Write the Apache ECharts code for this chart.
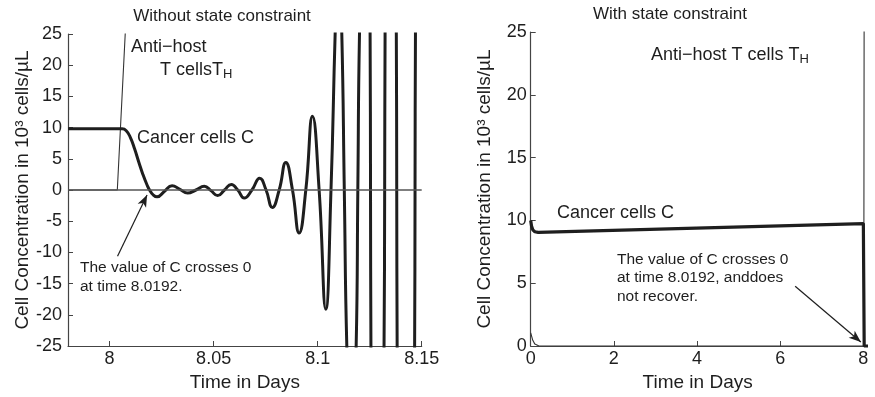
<!DOCTYPE html>
<html>
<head>
<meta charset="utf-8">
<script src="https://cdn.jsdelivr.net/npm/echarts@6/dist/echarts.min.js"></script>
<style>
  html, body { margin: 0; padding: 0; background: #fff; }
  #chart { width: 875px; height: 397px; }
</style>
</head>
<body>
<div id="chart"></div>
<script>
// left panel: without state constraint
var leftTimeC = [7.98, 8.006, 8.008, 8.010, 8.012, 8.014, 8.016, 8.018, 8.0192, 8.021,
  8.0228, 8.0264, 8.0300, 8.0338, 8.0375, 8.0415, 8.0455, 8.0487, 8.0519, 8.0552,
  8.0585, 8.0616, 8.0647, 8.0684, 8.0721, 8.0752, 8.0782, 8.0815, 8.0847, 8.0879,
  8.0911, 8.0943, 8.0975, 8.1007, 8.1039, 8.1064, 8.1084, 8.1100, 8.1116, 8.1128,
  8.1140, 8.1162, 8.1185, 8.1193, 8.1201, 8.1226, 8.1252, 8.1254, 8.1256, 8.1287,
  8.1319, 8.1322, 8.1324, 8.1352, 8.1378, 8.1380, 8.1382, 8.1424, 8.1466, 8.1468,
  8.1470, 8.1500];
var leftC = [9.8, 9.8, 9.5, 8.4, 6.6, 4.5, 2.5, 0.8, 0, -0.8,
  -1.1, -0.2, 0.7, 0.1, -0.5, 0, 0.6, -0.1, -0.9, 0,
  0.9, 0, -1.3, 0, 1.9, 0, -2.8, 0, 4.4, 0,
  -6.9, 0, 11.8, 0, -19.1, 0, 25, 40, 25, 0,
  -25, -45, -25, 0, 25, 60, 25, 0, -25, -80,
  -25, 0, 25, 100, 25, 0, -25, -130, -25, 0,
  25, 90];
var leftTimeTH = [7.98, 8.0037, 8.0075, 8.0080];
var leftTH = [0, 0, 25, 28];
var leftTicks = [8, 8.05, 8.1, 8.15];

// right panel: with state constraint
var rightTimeC = [0, 0.02, 0.05, 0.1, 0.18, 8.0, 8.015, 8.02, 8.28];
var rightC = [10.0, 9.55, 9.25, 9.1, 9.05, 9.75, 9.75, 0, 0];
var rightTimeTH = [0, 0.05, 0.1, 0.2, 8.01, 8.02];
var rightTH = [1.05, 0.45, 0.15, 0, 0, 30];
var rightTicks = [0, 2, 4, 6, 8];

var FONT = '"Liberation Sans", Arial, Helvetica, sans-serif';
var INK = '#1e1e1e';
var AXIS = '#444';

function pairs(xs, ys) {
  var out = [];
  for (var i = 0; i < xs.length; i++) {
    out.push([xs[i], ys[i]]);
  }
  return out;
}

function fmt(v) {
  return String(+(+v).toFixed(4));
}

function xAxisFor(idx, min, max, ticks) {
  return {
    type: 'value', gridIndex: idx, min: min, max: max,
    name: 'Time in Days', nameLocation: 'middle', nameGap: 27,
    nameTextStyle: { fontFamily: FONT, fontSize: 19, color: INK },
    axisLine: { onZero: false, lineStyle: { color: AXIS, width: 1.2 } },
    axisTick: { inside: true, length: 5, customValues: ticks, lineStyle: { color: AXIS } },
    axisLabel: { customValues: ticks, margin: 4, fontFamily: FONT, fontSize: 18, color: INK, formatter: fmt },
    splitLine: { show: false }
  };
}

function yAxisFor(idx, min, max, margin) {
  return {
    type: 'value', gridIndex: idx, min: min, max: max, interval: 5,
    name: 'Cell Concentration in 10³ cells/µL', nameLocation: 'middle', nameGap: 36,
    nameTextStyle: { fontFamily: FONT, fontSize: 19, color: INK },
    axisLine: { show: true, onZero: false, lineStyle: { color: AXIS, width: 1.2 } },
    axisTick: { show: true, inside: true, length: 5, lineStyle: { color: AXIS } },
    axisLabel: { margin: margin, fontFamily: FONT, fontSize: 18, color: INK },
    splitLine: { show: false }
  };
}

function arrow(from, to) {
  return {
    silent: true, animation: false,
    symbol: ['none', 'arrow'], symbolSize: [7, 12],
    label: { show: false },
    lineStyle: { color: INK, width: 1.2, type: 'solid' },
    data: [[{ coord: from }, { coord: to }]]
  };
}

function label(x, y, text, size, extra) {
  var style = { x: x, y: y, text: text, fill: INK, font: size + 'px ' + FONT, verticalAlign: 'middle' };
  for (var k in extra) { style[k] = extra[k]; }
  return { type: 'text', silent: true, style: style };
}

var subRich = { sub: { fontSize: 13, fontFamily: FONT, fill: INK, padding: [9, 0, 0, 0] } };

var chart = echarts.init(document.getElementById('chart'));

chart.setOption({
  animation: false,
  backgroundColor: '#fff',
  grid: [
    { left: 68, top: 34, width: 353.7, height: 315 },
    { left: 530.7, top: 32, width: 333.9, height: 315 }
  ],
  xAxis: [
    xAxisFor(0, 7.98, 8.15, leftTicks),
    xAxisFor(1, 0, 8.03, rightTicks)
  ],
  yAxis: [
    yAxisFor(0, -25, 25, 6),
    yAxisFor(1, 0, 25, 4)
  ],
  series: [
    {
      type: 'line', xAxisIndex: 0, yAxisIndex: 0, showSymbol: false, clip: true,
      data: pairs(leftTimeTH, leftTH),
      lineStyle: { color: '#333', width: 1.1 },
      markLine: {
        silent: true, animation: false, symbol: 'none', label: { show: false },
        lineStyle: { color: '#555', width: 1.6, type: 'solid' },
        data: [{ yAxis: 0 }]
      }
    },
    {
      type: 'line', xAxisIndex: 0, yAxisIndex: 0, showSymbol: false, clip: true,
      smooth: 0.5,
      data: pairs(leftTimeC, leftC),
      lineStyle: { color: INK, width: 3 },
      markLine: arrow([8.0038, -10.6], [8.018, -0.8])
    },
    {
      type: 'line', xAxisIndex: 1, yAxisIndex: 1, showSymbol: false, clip: true,
      data: pairs(rightTimeTH, rightTH),
      lineStyle: { color: '#333', width: 1.1 }
    },
    {
      type: 'line', xAxisIndex: 1, yAxisIndex: 1, showSymbol: false, clip: false,
      data: pairs(rightTimeC, rightC),
      lineStyle: { color: INK, width: 3.2 },
      markLine: arrow([6.36, 4.76], [7.94, 0.32])
    }
  ],
  graphic: [
    label(222, 16, 'Without state constraint', 17, { align: 'center' }),
    label(670, 14, 'With state constraint', 17, { align: 'center' }),
    label(131, 47, 'Anti\u2212host', 18),
    label(160, 70, 'T cellsT{sub|H}', 18, { rich: subRich }),
    label(137, 138, 'Cancer cells C', 18),
    label(80, 277, 'The value of C crosses 0\nat time 8.0192.', 15.5, { lineHeight: 19 }),
    label(651, 55, 'Anti\u2212host T cells T{sub|H}', 18, { rich: subRich }),
    label(557, 213, 'Cancer cells C', 18),
    label(617, 278, 'The value of C crosses 0\nat time 8.0192, anddoes\nnot recover.', 15.5, { lineHeight: 18.5 })
  ]
});

window.addEventListener('resize', chart.resize);
</script>
</body>
</html>
